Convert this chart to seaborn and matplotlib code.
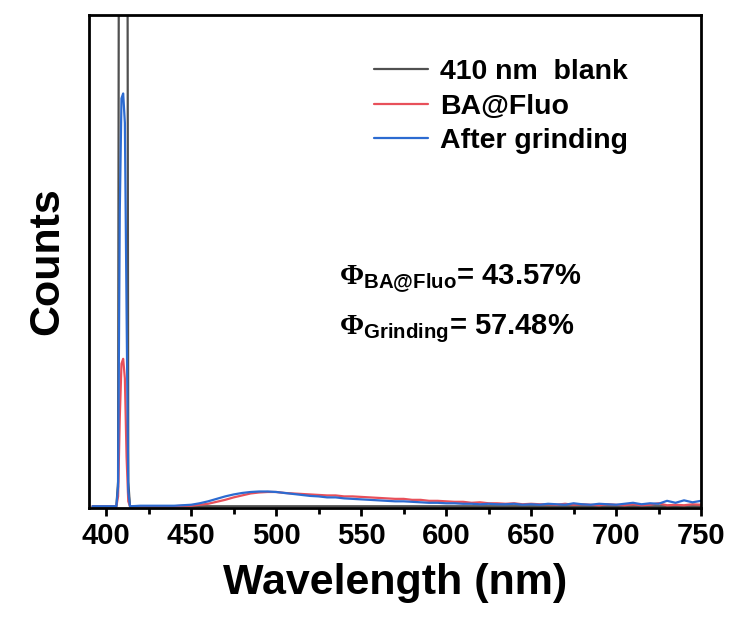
import numpy as np
import pandas as pd
import matplotlib
matplotlib.use('Agg')
import matplotlib.pyplot as plt
import seaborn as sns

# ---- DATA (counts normalised to the blue peak ~0.84) ----
wl_peak = [392, 400, 405, 406, 407, 408, 409, 410, 411, 412, 413, 414, 415]
blank_peak = [0.0, 0.0, 0.0, 0.0, 0.05, 2.5, 3.0, 3.0, 3.0, 2.5, 0.05, 0.0, 0.0]
fluo_peak = [0.0, 0.0, 0.0, 0.0, 0.02, 0.18, 0.29, 0.30, 0.26, 0.10, 0.01, 0.0, 0.0]
grind_peak = [0.0, 0.0, 0.0, 0.0, 0.04, 0.60, 0.83, 0.84, 0.78, 0.40, 0.03, 0.0, 0.0]

wl_em = [420, 425, 430, 435, 440, 445, 450, 455, 460, 465, 470, 475, 480, 485,
         490, 495, 500, 505, 510, 515, 520, 525, 530, 535, 540, 545, 550, 555,
         560, 565, 570, 575, 580, 585, 590, 595, 600, 605, 610, 615, 620, 625,
         630, 635, 640, 645, 650, 655, 660, 665, 670, 675, 680, 685, 690, 695,
         700, 705, 710, 715, 720, 725, 730, 735, 740, 745, 750]
blank_em = [0.0] * len(wl_em)
fluo_em = [0.000, 0.000, 0.000, 0.000, 0.000, 0.001, 0.001, 0.003, 0.005, 0.009,
           0.013, 0.018, 0.022, 0.026, 0.028, 0.029, 0.029, 0.027, 0.026, 0.025,
           0.024, 0.023, 0.022, 0.022, 0.020, 0.020, 0.019, 0.018, 0.017, 0.016,
           0.015, 0.015, 0.013, 0.013, 0.011, 0.011, 0.010, 0.009, 0.009, 0.007,
           0.008, 0.006, 0.006, 0.005, 0.006, 0.004, 0.005, 0.004, 0.004, 0.003,
           0.005, 0.003, 0.004, 0.003, 0.002, 0.004, 0.003, 0.002, 0.004, 0.002,
           0.003, 0.006, 0.002, 0.003, 0.002, 0.004, 0.003]
grind_em = [0.001, 0.001, 0.001, 0.001, 0.001, 0.002, 0.003, 0.006, 0.010, 0.015,
            0.020, 0.024, 0.027, 0.029, 0.030, 0.030, 0.029, 0.027, 0.025, 0.023,
            0.021, 0.020, 0.018, 0.018, 0.016, 0.015, 0.014, 0.013, 0.012, 0.011,
            0.010, 0.010, 0.009, 0.008, 0.007, 0.007, 0.006, 0.006, 0.005, 0.005,
            0.004, 0.005, 0.004, 0.004, 0.005, 0.003, 0.004, 0.003, 0.005, 0.004,
            0.003, 0.006, 0.004, 0.003, 0.005, 0.004, 0.003, 0.005, 0.007, 0.004,
            0.006, 0.005, 0.011, 0.007, 0.012, 0.008, 0.011]

labels = ['410 nm  blank', 'BA@Fluo', 'After grinding']
colors = ['#505050', '#e8505a', '#2c6bd1']

wl = wl_peak + wl_em
frames = []
for lab, pk, em in zip(labels, [blank_peak, fluo_peak, grind_peak],
                       [blank_em, fluo_em, grind_em]):
    frames.append(pd.DataFrame({'wl': wl, 'counts': pk + em, 'sample': lab}))
df = pd.concat(frames, ignore_index=True)

# ---- STYLE ----
sns.set_style('ticks')
plt.rcParams['font.family'] = ['Liberation Sans', 'DejaVu Sans']
plt.rcParams['font.weight'] = 'bold'
plt.rcParams['text.color'] = 'black'
plt.rcParams['axes.labelcolor'] = 'black'
plt.rcParams['xtick.color'] = 'black'
plt.rcParams['axes.edgecolor'] = 'black'
plt.rcParams['mathtext.fontset'] = 'custom'
plt.rcParams['mathtext.rm'] = 'Liberation Serif'
plt.rcParams['mathtext.bf'] = 'Liberation Sans:bold'

fig = plt.figure(figsize=(7.31, 6.19), dpi=100)
ax = fig.add_axes([0.122, 0.179, 0.837, 0.797])

sns.lineplot(data=df, x='wl', y='counts', hue='sample', palette=colors,
             linewidth=1.6, sort=False, estimator=None, ax=ax)

ax.set_xlim(390, 750)
ax.set_ylim(-0.004, 1.0)
ax.set_xticks(range(400, 751, 50))
ax.set_xticks(range(425, 751, 50), minor=True)
ax.set_yticks([])
ax.tick_params(axis='x', which='major', direction='out', length=6, width=2,
               labelsize=21, pad=4)
ax.tick_params(axis='x', which='minor', direction='out', length=4, width=2)
for lbl in ax.get_xticklabels():
    lbl.set_fontweight('bold')
for sp in ax.spines.values():
    sp.set_linewidth(2)
    sp.set_visible(True)

ax.set_xlabel('Wavelength (nm)', fontsize=31, fontweight='bold', labelpad=9)
ax.set_ylabel('Counts', fontsize=31, fontweight='bold', labelpad=16)

leg = ax.legend(loc='upper right', bbox_to_anchor=(0.922, 0.962), frameon=False,
                handlelength=1.9, handletextpad=0.4, labelspacing=0.3,
                prop={'weight': 'bold', 'size': 20.5})

ax.text(0.408, 0.452, r'$\mathrm{\Phi}_{\mathbf{BA@Fluo}}$= 43.57%',
        transform=ax.transAxes, fontsize=21, fontweight='bold')
ax.text(0.408, 0.352, r'$\mathrm{\Phi}_{\mathbf{Grinding}}$= 57.48%',
        transform=ax.transAxes, fontsize=21, fontweight='bold')

fig.savefig('out.png', dpi=100)
